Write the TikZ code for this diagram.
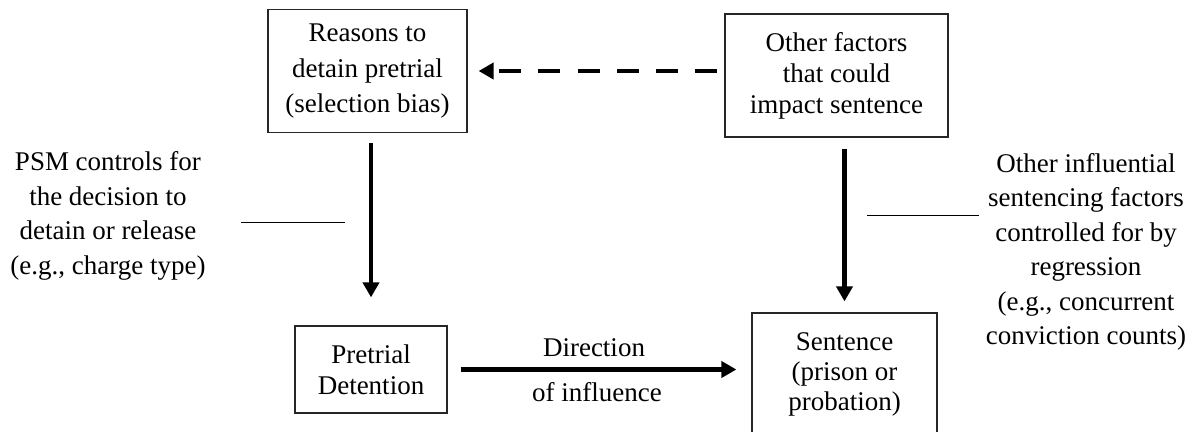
\documentclass[tikz,border=0pt]{standalone}
\usepackage{fontspec}
\setmainfont{Liberation Serif}
\usetikzlibrary{arrows.meta}
\begin{document}
\begin{tikzpicture}[x=1pt,y=-1pt,
  boxnode/.style={draw=black!85,line width=1.2pt,rectangle,align=center,inner sep=0pt},
  plain/.style={align=center,inner sep=0pt,font=\fontsize{27}{34.5}\selectfont},
  arr/.style={line width=4.5pt,-{Triangle[length=15pt,width=16pt]}},
  thin/.style={line width=1pt}]
\useasboundingbox (0,0) rectangle (1191,431);
\clip (0,0) rectangle (1191,431);
\node[boxnode,minimum width=199pt,minimum height=123pt,font=\fontsize{27}{34.5}\selectfont] (reasons) at (367.5,71) {\raisebox{2pt}{Reasons to}\\detain pretrial\\(selection bias)};
\node[boxnode,minimum width=223pt,minimum height=123pt,font=\fontsize{27}{31}\selectfont] (other) at (836.5,75.5) {Other factors\\that could\\impact sentence};
\node[boxnode,minimum width=152pt,minimum height=87pt,font=\fontsize{27}{31}\selectfont] (pretrial) at (371,369.5) {Pretrial\\Detention};
\node[boxnode,minimum width=185pt,minimum height=122pt,font=\fontsize{27}{30}\selectfont] (sentence) at (844.5,374) {Sentence\\(prison or\\probation)};
\node[plain] (psm) at (108,216) {PSM controls for\\the decision to\\detain or release\\(e.g., charge type)};
\node[plain] (reg) at (1086,252) {Other influential\\sentencing factors\\controlled for by\\regression\\(e.g., concurrent\\conviction counts)};
\node[plain] (dir) at (594,348) {Direction};
\node[plain] (infl) at (597,392) {of influence};
\draw[arr,dash pattern=on 22pt off 17.3pt,shorten <=7pt,shorten >=11pt] (other.west |- reasons.east) -- (reasons.east);
\draw[arr,shorten <=10pt,shorten >=28pt] (reasons.south -| pretrial.north) -- (pretrial.north);
\draw[arr,shorten <=11pt,shorten >=11pt] (other.south -| sentence.north) -- (sentence.north);
\draw[arr,shorten <=13pt,shorten >=15pt] (pretrial.east) -- (pretrial.east -| sentence.west);
\coordinate (l1) at (241,222);
\coordinate (l2) at (345,222);
\coordinate (r1) at (867,215);
\coordinate (r2) at (979,215);
\draw[thin] (l1) -- (l2);
\draw[thin] (r1) -- (r2);
\end{tikzpicture}
\end{document}
